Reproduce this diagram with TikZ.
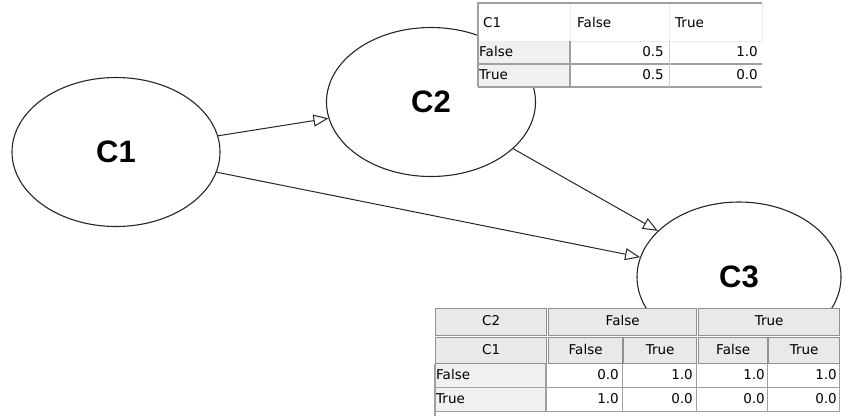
\documentclass[tikz,border=0pt]{standalone}
\usepackage{fontspec}
\setmainfont{DejaVu Sans}
\newfontfamily\varfont{Liberation Sans}
\usetikzlibrary{shapes.geometric, arrows.meta, positioning}

\definecolor{gridgray}{HTML}{A0A0A0}
\definecolor{lblgray}{HTML}{F0F0F0}
\definecolor{hdrblue}{HTML}{E3ECF8}
\definecolor{btngray}{HTML}{E9E9E9}

\tikzset{
  var/.style={ellipse, draw=black!85, line width=1.1pt, fill=white,
    font=\varfont\bfseries\fontsize{31}{31}\selectfont},
  dep/.style={-{Triangle[open, length=15pt, width=12pt]}, black!85, line width=1pt},
  cell/.style={font=\fontsize{13.5}{13.5}\selectfont, text=black, inner sep=0pt,
    text height=10pt, text depth=3pt},
  hcell/.style={cell, draw=gridgray!90!black, line width=1.3pt, fill=btngray, anchor=north west},
}

\begin{document}
\begin{tikzpicture}[x=1pt, y=-1pt]
    \useasboundingbox (0,0) rectangle (845,416);

    % Draw the three variables
    \node[var, minimum width=208pt, minimum height=149pt] (C1) at (116,152) {C1};
    \node[var, minimum width=209pt, minimum height=149pt] (C2) at (431,102) {C2};
    \node[var, minimum width=204pt, minimum height=150pt] (C3) at (739,277) {C3};

    % Dependencies between them
    \draw[dep] (C1) -- (C2);
    \draw[dep] (C1) -- (C3);
    \draw[dep] (C2) -- (C3);

    % Table of C2 given C1
    \fill[white] (478,3) rectangle (762,87);
    \fill[lblgray] (478,41) rectangle (570,87);
    \draw[hdrblue, line width=1pt] (570,4) -- (570,41) (669,4) -- (669,41) (762,4) -- (762,41) (478,41) -- (762,41);
    \draw[gridgray, line width=1.6pt] (477,3) -- (762,3);
    \draw[gridgray, line width=1.2pt] (478,3) -- (478,87) (570,41) -- (570,87) (478,64) -- (762,64) (478,87) -- (762,87);
    \draw[gridgray!50, line width=0.8pt] (669,41) -- (669,87);

    \node[cell, anchor=west] (t1c1) at (483,24) {C1};
    \node[cell, anchor=west] (t1f) at (577,24) {False};
    \node[cell, anchor=west] (t1t) at (675,24) {True};
    \node[cell, anchor=west] (t1rowf) at (479,53) {False};
    \node[cell, anchor=west] (t1rowt) at (479,76) {True};
    \node[cell, anchor=east] (t1v1) at (664,53) {0.5};
    \node[cell, anchor=east] (t1v2) at (758,53) {1.0};
    \node[cell, anchor=east] (t1v3) at (664,76) {0.5};
    \node[cell, anchor=east] (t1v4) at (758,76) {0.0};

    % Table of C3 given C2 and C1
    \fill[white] (435,308) rectangle (845,416);
    \node[hcell, minimum width=111pt, minimum height=27pt] (t2c2) at (435,308) {C2};
    \node[hcell, minimum width=148pt, minimum height=27pt] (t2f) at (548,308) {False};
    \node[hcell, minimum width=141pt, minimum height=27pt] (t2t) at (698,308) {True};
    \node[hcell, minimum width=111pt, minimum height=26pt] (t2c1) at (435,337) {C1};
    \node[hcell, minimum width=74pt, minimum height=26pt] (t2ff) at (548,337) {False};
    \node[hcell, minimum width=73pt, minimum height=26pt] (t2ft) at (623,337) {True};
    \node[hcell, minimum width=69pt, minimum height=26pt] (t2tf) at (698,337) {False};
    \node[hcell, minimum width=71pt, minimum height=26pt] (t2tt) at (768,337) {True};

    \fill[lblgray] (435,364) rectangle (546,411);
    \draw[gridgray, line width=1.2pt] (435,364) -- (435,416) (546,364) -- (546,411)
      (622.5,364) -- (622.5,411) (696.5,364) -- (696.5,411) (767.5,364) -- (767.5,411)
      (839.5,364) -- (839.5,411) (435,387.5) -- (840,387.5) (435,411.5) -- (840,411.5);

    \node[cell, anchor=west] (t2rowf) at (436,376) {False};
    \node[cell, anchor=west] (t2rowt) at (436,400) {True};
    \node[cell, anchor=east] (t2v1) at (619,376) {0.0};
    \node[cell, anchor=east] (t2v2) at (693,376) {1.0};
    \node[cell, anchor=east] (t2v3) at (765,376) {1.0};
    \node[cell, anchor=east] (t2v4) at (837,376) {1.0};
    \node[cell, anchor=east] (t2v5) at (619,400) {1.0};
    \node[cell, anchor=east] (t2v6) at (693,400) {0.0};
    \node[cell, anchor=east] (t2v7) at (765,400) {0.0};
    \node[cell, anchor=east] (t2v8) at (837,400) {0.0};

\end{tikzpicture}
\end{document}
